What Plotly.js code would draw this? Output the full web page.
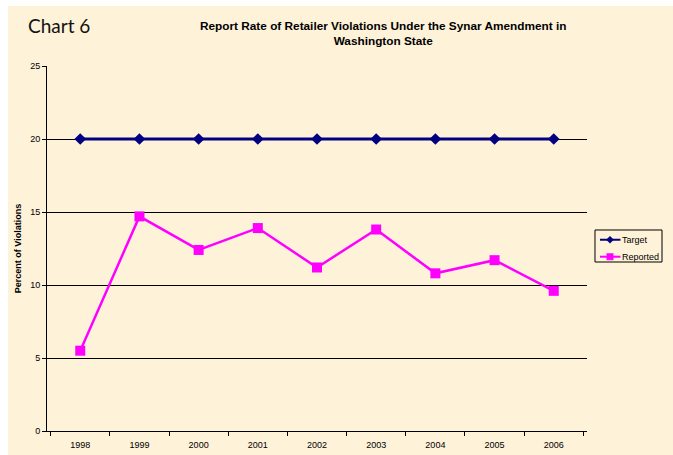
<!DOCTYPE html>
<html>
<head>
<meta charset="utf-8">
<script src="https://cdn.plot.ly/plotly-3.0.1.min.js"></script>
<style>
html,body{margin:0;padding:0;background:#ffffff;width:673px;height:455px;overflow:hidden;}
#chart{position:absolute;left:8px;top:6px;width:665px;height:449px;}
</style>
</head>
<body>
<div id="chart"></div>
<script>
const years = ['1998','1999','2000','2001','2002','2003','2004','2005','2006'];
const targetValues = [20,20,20,20,20,20,20,20,20];
const reportedValues = [5.5,14.7,12.4,13.9,11.2,13.8,10.8,11.7,9.6];
const yTicks = [0,5,10,15,20,25];
const seriesNames = ['Target','Reported'];
const chartLabel = 'Chart 6';
const titleText = 'Report Rate of Retailer Violations Under the Synar Amendment in<br>Washington State';
const yTitle = 'Percent of Violations';

const bg = '#FEF2D9';
const navy = '#000080', magenta = '#FF00FF';
const traces = [
  {x: years, y: targetValues, name: seriesNames[0], type: 'scatter', mode: 'lines+markers',
   line: {color: navy, width: 3}, marker: {symbol: 'diamond', size: 9, color: navy}},
  {x: years, y: reportedValues, name: seriesNames[1], type: 'scatter', mode: 'lines+markers',
   line: {color: magenta, width: 2.5}, marker: {symbol: 'square', size: 10, color: magenta}}
];

// legend drawn as a framed key to the right of the plot
const lg = {x0: 1.0148, x1: 1.1389, yTop: 0.5507, yBot: 0.463, lx0: 1.024, lx1: 1.062, mx: 1.0426, tx: 1.0615, rows: [0.524, 0.4775]};
const shapes = [
  {type: 'rect', xref: 'paper', yref: 'paper', x0: lg.x0, x1: lg.x1, y0: lg.yBot, y1: lg.yTop,
   line: {color: '#000', width: 1}, fillcolor: bg, layer: 'above'},
  {type: 'line', xref: 'paper', yref: 'paper', x0: lg.lx0, x1: lg.lx1, y0: lg.rows[0], y1: lg.rows[0],
   line: {color: navy, width: 2}},
  {type: 'path', xref: 'paper', yref: 'paper', xsizemode: 'pixel', ysizemode: 'pixel',
   xanchor: lg.mx, yanchor: lg.rows[0], path: 'M0,3.5 L3.5,0 L0,-3.5 L-3.5,0 Z',
   fillcolor: navy, line: {color: navy, width: 0.5}},
  {type: 'line', xref: 'paper', yref: 'paper', x0: lg.lx0, x1: lg.lx1, y0: lg.rows[1], y1: lg.rows[1],
   line: {color: magenta, width: 2}},
  {type: 'rect', xref: 'paper', yref: 'paper', xsizemode: 'pixel', ysizemode: 'pixel',
   xanchor: lg.mx, yanchor: lg.rows[1], x0: -3.2, x1: 3.2, y0: -3.2, y1: 3.2,
   fillcolor: magenta, line: {color: magenta, width: 0.5}}
];

const layout = {
  width: 665, height: 449,
  paper_bgcolor: bg, plot_bgcolor: bg,
  margin: {l: 39, r: 86, t: 60, b: 24},
  font: {family: 'Arial, Liberation Sans, sans-serif', size: 9, color: '#000'},
  showlegend: false,
  xaxis: {type: 'category', showgrid: false, showline: true, linecolor: '#000', linewidth: 1,
          ticks: 'outside', tickson: 'boundaries', ticklen: 4, tickcolor: '#000',
          tickfont: {size: 9}, zeroline: false, fixedrange: true, ticklabelstandoff: 5},
  yaxis: {range: [0, 25], tickvals: yTicks, showgrid: true, gridcolor: '#000', gridwidth: 1,
          showline: true, linecolor: '#000', linewidth: 1, ticks: 'outside', ticklen: 4,
          tickcolor: '#000', tickfont: {size: 9}, zeroline: false,
          title: {text: yTitle, font: {size: 9, weight: 'bold'}, standoff: 7}},
  shapes: shapes,
  annotations: [
    {text: chartLabel, xref: 'paper', yref: 'paper', x: -0.038, y: 1.112, xanchor: 'left', yanchor: 'middle',
     showarrow: false, font: {family: 'Lato, Open Sans, sans-serif', size: 19, color: '#111'}},
    {text: '<b>' + titleText + '</b>', xref: 'paper', yref: 'paper', x: 0.623, y: 1.088,
     xanchor: 'center', yanchor: 'middle', showarrow: false, align: 'center',
     font: {size: 11.8, color: '#000'}},
    {text: seriesNames[0], xref: 'paper', yref: 'paper', x: lg.tx, y: lg.rows[0], xanchor: 'left', yanchor: 'middle',
     showarrow: false, font: {size: 9}},
    {text: seriesNames[1], xref: 'paper', yref: 'paper', x: lg.tx, y: lg.rows[1], xanchor: 'left', yanchor: 'middle',
     showarrow: false, font: {size: 9}}
  ]
};
Plotly.newPlot('chart', traces, layout, {displayModeBar: false, staticPlot: true});
</script>
</body>
</html>
